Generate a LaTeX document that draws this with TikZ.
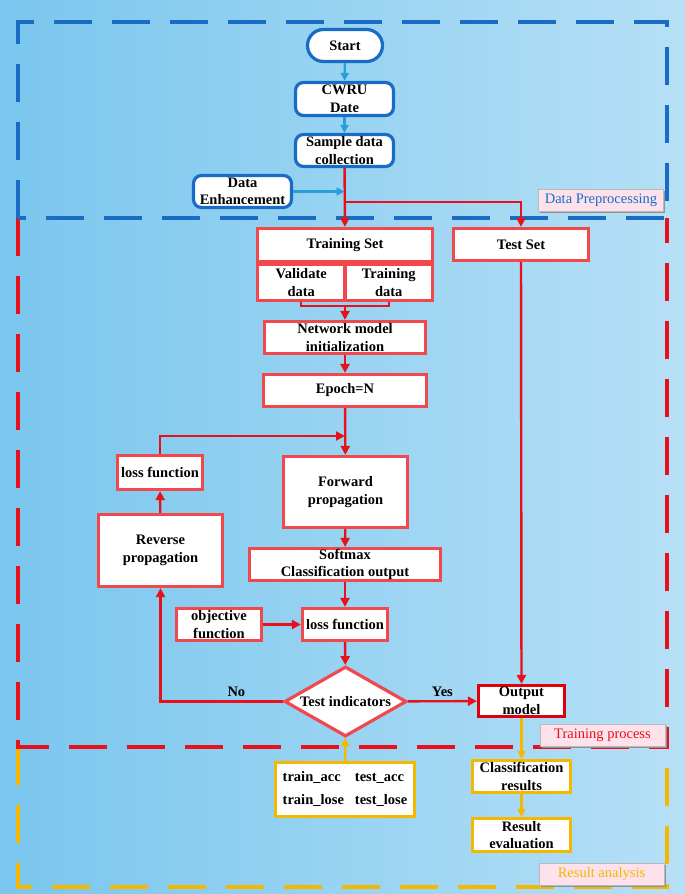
\documentclass[tikz,border=0pt]{standalone}
\usepackage{fontspec}
\setmainfont{Liberation Serif}
\usetikzlibrary{arrows.meta, shapes.geometric, shadows}
\definecolor{bgleft}{RGB}{122,198,238}
\definecolor{bgright}{RGB}{182,224,246}
\definecolor{preblue}{RGB}{24,108,196}
\definecolor{arrblue}{RGB}{40,158,218}
\definecolor{boxred}{RGB}{240,72,76}
\definecolor{arrred}{RGB}{232,16,26}
\definecolor{outred}{RGB}{222,0,10}
\definecolor{resyellow}{RGB}{245,184,0}
\definecolor{tagpink}{RGB}{253,226,236}
\tikzset{
  every node/.style={font=\fontsize{14.5}{17.5}\selectfont\bfseries, align=center},
  bluebox/.style={draw=preblue, line width=3.2pt, fill=white, rounded corners=8pt, inner sep=0.5pt},
  redbox/.style={draw=boxred, line width=3.2pt, fill=white, inner sep=0.5pt},
  yellowbox/.style={draw=resyellow, line width=3.2pt, fill=white, inner sep=0.5pt},
  tagbox/.style={draw=gray!55, line width=0.8pt, fill=tagpink,
    font=\fontsize{14.5}{17.5}\selectfont,
    drop shadow={shadow xshift=1.8pt, shadow yshift=-1.8pt, fill=gray!85, opacity=1},
    minimum width=125pt, minimum height=22pt, inner sep=0pt},
  bluearrow/.style={draw=arrblue, line width=2.2pt, -{Triangle[length=8pt,width=8pt]}},
  redline/.style={draw=arrred, line width=2.4pt},
  redarrow/.style={redline, -{Triangle[length=9pt,width=9pt]}},
  yellowarrow/.style={draw=resyellow, line width=2.4pt, -{Triangle[length=8pt,width=8pt]}},
  regiondash/.style={line width=3.6pt, dash pattern=on 38pt off 20pt},
}

\begin{document}
\begin{tikzpicture}[x=1pt, y=-1pt]
  % background and regions
  \fill[left color=bgleft, right color=bgright] (0,0) rectangle (685,894);
  \draw[regiondash, draw=resyellow] (18,747) -- (18,887) -- (667,887) -- (667,747);
  \draw[regiondash, draw=arrred] (18,218) -- (18,747) -- (667,747) -- (667,218);
  \draw[regiondash, draw=preblue] (18,218) rectangle (667,22);

  % data preprocessing
  \node[bluebox, rounded corners=16pt, minimum width=75pt, minimum height=32pt] (start) at (345,45.5) {Start};
  \node[bluebox, minimum width=98pt, minimum height=33pt] (cwru) at (344.5,99) {CWRU\\Date};
  \node[bluebox, minimum width=98pt, minimum height=32pt] (sample) at (344.5,150.5) {Sample data\\collection};
  \node[bluebox, minimum width=98pt, minimum height=32pt] (enhance) at (242.5,191.5) {Data\\Enhancement};

  % training process
  \node[redbox, minimum width=175pt, minimum height=33pt] (trainset) at (345,245) {Training Set};
  \node[redbox, anchor=north west, minimum width=87.5pt, minimum height=35.5pt] (validate) at (trainset.south west) {Validate\\data};
  \node[redbox, anchor=north east, minimum width=87.5pt, minimum height=35.5pt] (tdata) at (trainset.south east) {Training\\data};
  \node[redbox, minimum width=135pt, minimum height=32pt] (testset) at (521,244.5) {Test Set};
  \node[redbox, minimum width=161pt, minimum height=32pt] (network) at (345,337.5) {Network model\\initialization};
  \node[redbox, minimum width=163pt, minimum height=32pt] (epoch) at (345,390.5) {Epoch=N};
  \node[redbox, minimum width=124pt, minimum height=71pt] (forward) at (345.5,492) {Forward\\propagation};
  \node[redbox, minimum width=191pt, minimum height=32pt] (softmax) at (345,564.5) {Softmax\\Classification output};
  \node[redbox, minimum width=85pt, minimum height=32pt] (lossR) at (345,624.5) {loss function};
  \node[redbox, minimum width=85pt, minimum height=32pt] (objective) at (219,624.5) {objective\\function};
  \node[redbox, diamond, aspect=1.7, inner sep=0pt, minimum width=122pt, minimum height=70pt] (test) at (345.5,701.5) {Test indicators};
  \node[redbox, minimum width=124pt, minimum height=72pt] (reverse) at (160.5,550.5) {Reverse\\propagation};
  \node[redbox, minimum width=85pt, minimum height=34pt] (lossL) at (160,472.5) {loss function};
  \node[redbox, draw=outred, minimum width=86pt, minimum height=31pt] (output) at (521.5,701) {Output\\model};

  % result analysis
  \node[yellowbox, minimum width=139pt, minimum height=54pt] (stats) at (345,789.5)
    {\begin{tabular}{@{}l@{\hspace{11pt}}l@{}}train\_acc & test\_acc\\[5pt] train\_lose & test\_lose\end{tabular}};
  \node[yellowbox, minimum width=98pt, minimum height=32pt] (classres) at (521.5,776.5) {Classification\\results};
  \node[yellowbox, minimum width=98pt, minimum height=33pt] (reseval) at (521.5,835) {Result\\evaluation};

  % region tags
  \node[tagbox, text=preblue] (tagpre) at (601,200.5) {Data Preprocessing};
  \node[tagbox, text=arrred] (tagtrain) at (602.5,735) {Training process};
  \node[tagbox, text=resyellow] (tagres) at (601.5,874.5) {Result analysis};

  % connectors
  \coordinate (fork) at (345,202);
  \coordinate (join) at (345,306);
  \coordinate (loopin) at (345,436);
  \draw[bluearrow] (start) -- (cwru);
  \draw[bluearrow] (cwru) -- (sample);
  \draw[redarrow] (sample) -- (trainset);
  \draw[bluearrow] (enhance) -- (enhance -| sample);
  \draw[redarrow] (fork) -| (testset);
  \draw[redline] (validate.south) |- (join) -| (tdata.south);
  \draw[redarrow] (join) -- (network);
  \draw[redarrow] (network) -- (epoch);
  \draw[redarrow] (epoch) -- (forward);
  \draw[redarrow] (lossL) |- (loopin);
  \draw[redarrow] (forward) -- (softmax);
  \draw[redarrow] (softmax) -- (lossR);
  \draw[redarrow] (objective) -- (lossR);
  \draw[redarrow] (lossR) -- (test);
  \draw[redarrow] (test.west) -| node[pos=0.19, above] {No} (reverse.south);
  \draw[redarrow] (reverse) -- (lossL);
  \draw[redarrow] (test) -- node[above] {Yes} (output);
  \draw[redarrow] (testset) -- (output);
  \draw[yellowarrow] (stats) -- (test);
  \draw[yellowarrow] (output) -- (classres);
  \draw[yellowarrow] (classres) -- (reseval);
\end{tikzpicture}
\end{document}
